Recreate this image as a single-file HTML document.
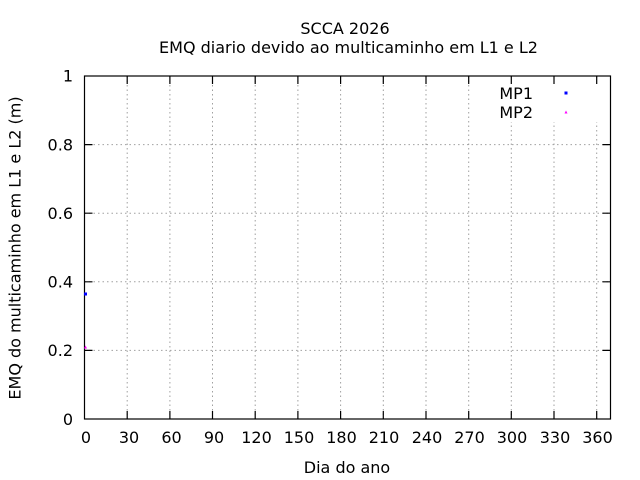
<!DOCTYPE html>
<html><head><meta charset="utf-8"><style>
html,body{margin:0;padding:0;background:#fff;}
svg{display:block;}
text{font-family:"DejaVu Sans","Liberation Sans",sans-serif;font-size:16px;fill:#000;}
</style></head><body>
<svg width="640" height="480" viewBox="0 0 640 480" xmlns="http://www.w3.org/2000/svg">
<rect width="640" height="480" fill="#fff"/>
<g stroke="#a0a0a0" stroke-width="1" stroke-dasharray="1.5,3" fill="none">
<line x1="84.5" y1="350.4" x2="610.5" y2="350.4"/>
<line x1="84.5" y1="281.8" x2="610.5" y2="281.8"/>
<line x1="84.5" y1="213.2" x2="610.5" y2="213.2"/>
<line x1="84.5" y1="144.6" x2="610.5" y2="144.6"/>
<line x1="127.2" y1="76" x2="127.2" y2="419"/>
<line x1="169.9" y1="76" x2="169.9" y2="419"/>
<line x1="212.5" y1="76" x2="212.5" y2="419"/>
<line x1="255.2" y1="76" x2="255.2" y2="419"/>
<line x1="297.9" y1="76" x2="297.9" y2="419"/>
<line x1="340.6" y1="76" x2="340.6" y2="419"/>
<line x1="383.3" y1="76" x2="383.3" y2="419"/>
<line x1="426.0" y1="76" x2="426.0" y2="419"/>
<line x1="468.7" y1="76" x2="468.7" y2="419"/>
<line x1="511.3" y1="76" x2="511.3" y2="419"/>
<line x1="554.0" y1="76" x2="554.0" y2="419"/>
<line x1="596.7" y1="76" x2="596.7" y2="419"/>
</g>
<rect x="478" y="80" width="130" height="42" fill="#fff"/>
<g stroke="#000" stroke-width="1.2" fill="none">
<rect x="84.5" y="76" width="526" height="343"/>
<path d="M84.5 350.4h8M84.5 281.8h8M84.5 213.2h8M84.5 144.6h8M610.5 350.4h-8M610.5 281.8h-8M610.5 213.2h-8M610.5 144.6h-8"/>
<path d="M127.2 419v-8M169.9 419v-8M212.5 419v-8M255.2 419v-8M297.9 419v-8M340.6 419v-8M383.3 419v-8M426.0 419v-8M468.7 419v-8M511.3 419v-8M554.0 419v-8M596.7 419v-8"/>
<path d="M127.2 76v8M169.9 76v8M212.5 76v8M255.2 76v8M297.9 76v8M340.6 76v8M383.3 76v8M426.0 76v8M468.7 76v8M511.3 76v8M554.0 76v8M596.7 76v8"/>
</g>
<g text-anchor="end">
<text x="73" y="425">0</text>
<text x="73" y="356">0.2</text>
<text x="73" y="287.5">0.4</text>
<text x="73" y="219">0.6</text>
<text x="73" y="150.5">0.8</text>
<text x="73" y="81.5">1</text>
</g>
<g text-anchor="middle">
<text x="86" y="443">0</text>
<text x="129" y="443">30</text>
<text x="171.5" y="443">60</text>
<text x="214" y="443">90</text>
<text x="256.5" y="443">120</text>
<text x="299" y="443">150</text>
<text x="341.5" y="443">180</text>
<text x="384" y="443">210</text>
<text x="427" y="443">240</text>
<text x="469.5" y="443">270</text>
<text x="512" y="443">300</text>
<text x="555" y="443">330</text>
<text x="597.5" y="443">360</text>
<text x="347" y="473">Dia do ano</text>
<text x="345" y="34">SCCA 2026</text>
<text x="348.5" y="53">EMQ diario devido ao multicaminho em L1 e L2</text>
<text transform="translate(20.5,248) rotate(-90)">EMQ do multicaminho em L1 e L2 (m)</text>
</g>
<g text-anchor="end">
<text x="533" y="99">MP1</text>
<text x="533" y="118">MP2</text>
</g>
<rect x="564.5" y="91.5" width="3" height="3" fill="#0000ff"/>
<path d="M564.5 113.5 L566 110.5 L567.5 113.5 Z" fill="#ff00ff"/>
<rect x="84" y="292.5" width="3" height="3" fill="#0000ff"/>
<path d="M84 348.5 L85.5 345.5 L87 348.5 Z" fill="#ff00ff"/>
</svg>
</body></html>
